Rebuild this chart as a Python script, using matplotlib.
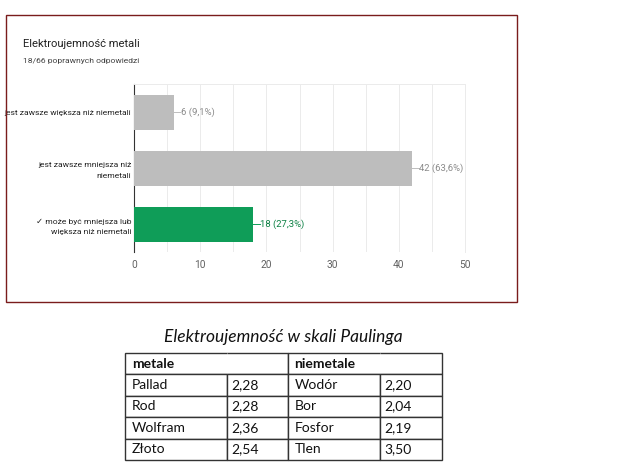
import matplotlib.pyplot as plt
from matplotlib.patches import Rectangle

plt.rcParams['font.family'] = ['Roboto', 'DejaVu Sans']

# chart data
answers = ["jest zawsze większa niż niemetali",
           "jest zawsze mniejsza niż\nniemetali",
           "✓ może być mniejsza lub\nwiększa niż niemetali"]
counts = [6, 42, 18]
percents = ["9,1%", "63,6%", "27,3%"]
correct = [False, False, True]
xticks = [0, 10, 20, 30, 40, 50]

# table data
metale = ["Pallad", "Rod", "Wolfram", "Złoto"]
metale_en = ["2,28", "2,28", "2,36", "2,54"]
niemetale = ["Wodór", "Bor", "Fosfor", "Tlen"]
niemetale_en = ["2,20", "2,04", "2,19", "3,50"]

W, H = 620, 474
fig = plt.figure(figsize=(W / 100, H / 100), dpi=100)


def fx(px):
    return px / W


def fy(py):
    return 1 - py / H


# red frame around the form screenshot
fig.patches.append(Rectangle((fx(6), fy(302)), fx(511), 287 / H, transform=fig.transFigure,
                             fill=False, edgecolor='#7a1c1c', linewidth=1.0))

fig.text(fx(23), fy(44), "Elektroujemność metali", fontsize=8.1, color='#212121', va='center')
fig.text(fx(23), fy(61), "18/66 poprawnych odpowiedzi", fontsize=6.1, color='#424242', va='center')

ax = fig.add_axes([fx(134), fy(252), (465 - 134) / W, (252 - 84) / H])
green = '#0f9d58'
gray = '#bdbdbd'
colors = [green if c else gray for c in correct]
ypos = list(range(len(answers)))
ax.barh(ypos, counts, height=0.625, color=colors, zorder=3)
ax.set_ylim(2.5, -0.5)
ax.set_xlim(0, 50)
ax.set_xticks(xticks)
ax.set_xticks(range(5, 50, 10), minor=True)
ax.tick_params(axis='x', which='both', length=0, labelsize=7.3, colors='#616161', pad=6)
ax.set_yticks(ypos)
ax.set_yticklabels(answers, fontsize=6.1, color='#222222', linespacing=1.8)
ax.tick_params(axis='y', length=0, pad=2)
ax.grid(axis='x', which='both', color='#ebebeb', linewidth=0.7, zorder=0)
for s in ['top', 'right', 'bottom']:
    ax.spines[s].set_color('#ebebeb')
    ax.spines[s].set_linewidth(0.7)
ax.spines['bottom'].set_visible(False)
ax.spines['left'].set_color('#333333')
ax.spines['left'].set_linewidth(0.8)

for y, v, p, c in zip(ypos, counts, percents, correct):
    col = '#0b8043' if c else '#8a8a8a'
    ax.plot([v, v + 1.0], [y, y], color='#bdbdbd' if not c else green, linewidth=0.7, zorder=3)
    ax.text(v + 1.1, y, f"{v} ({p})", fontsize=6.8, color=col, va='center', ha='left')

# table below
fig.text(fx(283), fy(337), "Elektroujemność w skali Paulinga", fontsize=12.5, style='italic',
         family=['Lato', 'DejaVu Sans'], ha='center', va='center', color='#111111')

tax = fig.add_axes([fx(125), fy(460), (442 - 125) / W, (460 - 353) / H])
tax.axis('off')
cells = [["metale", "", "niemetale", ""]]
for a, b, c, d in zip(metale, metale_en, niemetale, niemetale_en):
    cells.append([a, b, c, d])
col_w = [102, 61, 92, 62]
tot = sum(col_w)
tbl = tax.table(cellText=cells, colWidths=[w / tot for w in col_w], loc='center',
                cellLoc='left', bbox=[0, 0, 1, 1])
tbl.auto_set_font_size(False)
for (r, c), cell in tbl.get_celld().items():
    cell.set_linewidth(1.0)
    cell.set_edgecolor('#333333')
    cell.PAD = 0.07
    txt = cell.get_text()
    txt.set_fontsize(10)
    txt.set_family(['Lato', 'DejaVu Sans'])
    txt.set_color('#111111')
    if r == 0:
        txt.set_fontweight('bold')
        cell.visible_edges = 'BTL' if c % 2 == 0 else 'BTR'

fig.savefig("out.png", dpi=100, facecolor='white')
